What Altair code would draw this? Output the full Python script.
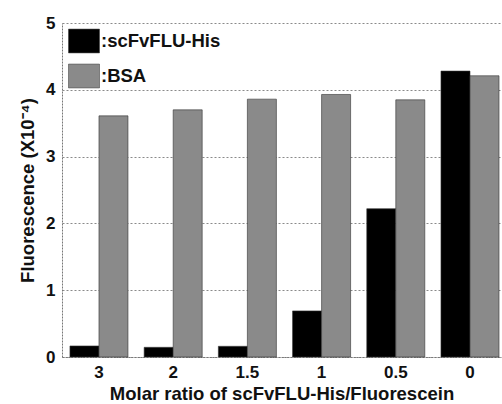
import altair as alt
import pandas as pd

ratios = ["3", "2", "1.5", "1", "0.5", "0"]
scfv = [0.165, 0.145, 0.16, 0.69, 2.22, 4.28]
bsa = [3.61, 3.70, 3.86, 3.93, 3.85, 4.21]
series_names = [":scFvFLU-His", ":BSA"]
colors = ["#000000", "#8a8a8a"]

rows = []
for r, a, b in zip(ratios, scfv, bsa):
    rows.append({"ratio": r, "series": series_names[0], "value": a})
    rows.append({"ratio": r, "series": series_names[1], "value": b})
df = pd.DataFrame(rows)

FONT = "Liberation Sans"

chart = alt.Chart(df).mark_bar(stroke="#333333", strokeWidth=0.6).encode(
    x=alt.X("ratio:N", sort=ratios,
            scale=alt.Scale(paddingInner=0.218, paddingOuter=0.067, align=0.8),
            axis=alt.Axis(title="Molar ratio of scFvFLU-His/Fluorescein", labelAngle=0,
                          ticks=False, labelPadding=7, titlePadding=4,
                          labelFontSize=17, titleFontSize=18.5,
                          grid=False)),
    xOffset=alt.XOffset("series:N", sort=series_names, scale=alt.Scale(domain=series_names, paddingInner=0, paddingOuter=0)),
    y=alt.Y("value:Q", scale=alt.Scale(domain=[0, 5], nice=False),
            axis=alt.Axis(title="Fluorescence (X10⁻⁴)", values=[0, 1, 2, 3, 4, 5],
                          ticks=False, labelPadding=7, titlePadding=8,
                          labelFontSize=17, titleFontSize=18.5,
                          grid=True, gridDash=[2, 2], gridColor="#8a8a8a", gridWidth=1)),
    color=alt.Color("series:N", sort=series_names,
                    scale=alt.Scale(domain=series_names, range=colors),
                    legend=alt.Legend(title=None, orient="none", legendX=6, legendY=2,
                                      symbolType="M-1,-0.77L1,-0.77L1,0.77L-1,0.77Z",
                                      symbolSize=961, symbolStrokeWidth=0.5,
                                      symbolStrokeColor="#333333",
                                      labelFont=FONT, labelFontSize=18.5, labelFontWeight="bold",
                                      labelColor="#111111", labelOffset=1, rowPadding=6,
                                      padding=0)),
).properties(
    width=439, height=334,
    autosize=alt.AutoSizeParams(type="none"),
    padding={"left": 62, "top": 23, "right": 1, "bottom": 47},
).configure_view(stroke=None).configure_axis(
    labelFont=FONT, titleFont=FONT,
    labelFontWeight="bold", titleFontWeight="bold",
    labelColor="#111111", titleColor="#111111",
    domainColor="#777777", domainDash=[2, 1], domainWidth=1,
)

chart.save("out.html", embed_options={"renderer": "svg", "actions": False})
